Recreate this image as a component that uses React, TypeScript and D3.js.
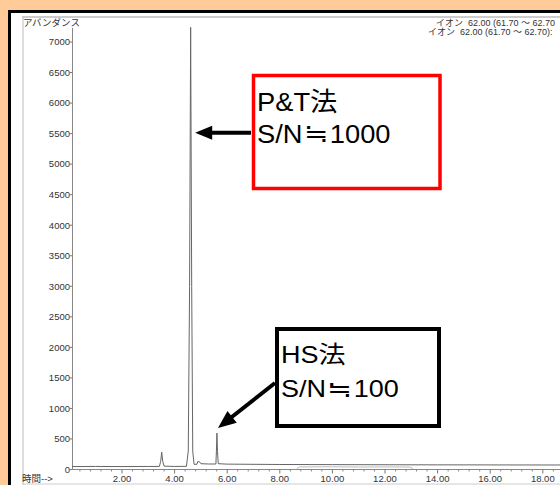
import React from "react";
import * as d3 from "d3";

// chromatogram trace (time in min, abundance)
const traceTime = [0.1, 1.0, 2.0, 3.0, 3.42, 3.47, 3.51, 3.55, 3.6, 4.0, 4.45, 4.52, 4.57, 4.61, 4.65, 4.69, 4.74, 4.85, 4.88, 4.95, 5.0, 5.3, 5.57, 5.59, 5.61, 5.63, 5.66, 6.0, 8.0, 10.0, 12.0, 14.0, 16.0, 18.0, 19.3];
const traceAbund = [48, 50, 48, 50, 50, 130, 285, 130, 55, 50, 52, 300, 3000, 7240, 3000, 300, 85, 85, 130, 125, 95, 90, 90, 300, 595, 300, 95, 88, 82, 80, 78, 76, 75, 74, 74];

// faint second trace
const faintTime = [8.65, 8.75, 10.0, 11.0, 12.0, 12.95, 13.06];
const faintAbund = [15, 42, 45, 40, 42, 40, 15];

const yTicks = [0, 500, 1000, 1500, 2000, 2500, 3000, 3500, 4000, 4500, 5000, 5500, 6000, 6500, 7000];
const xTicks = [2, 4, 6, 8, 10, 12, 14, 16, 18];
const ionLabels = ["イオン\u00a0\u00a062.00\u00a0(61.70\u00a0～\u00a062.70", "イオン\u00a0\u00a062.00\u00a0(61.70\u00a0～\u00a062.70):"];
const ptLines = ["P&T法", "S/N≒1000"];
const hsLines = ["HS法", "S/N≒100"];

const FONT = "'Liberation Sans', Arial, 'Noto Sans CJK JP', sans-serif";
const CJK = "'Noto Sans CJK JP', sans-serif";

function arrowHead(x1: number, y1: number, x2: number, y2: number, len: number, half: number) {
  const a = Math.atan2(y2 - y1, x2 - x1);
  const bx = x2 - len * Math.cos(a);
  const by = y2 - len * Math.sin(a);
  const px = -Math.sin(a) * half;
  const py = Math.cos(a) * half;
  return `M${x2},${y2}L${bx + px},${by + py}L${bx - px},${by - py}Z`;
}

// split so the ≒ sign is drawn wide, as in the reference
function NoteText({ s, w }: { s: string; w: number }) {
  const parts = s.split("≒");
  if (parts.length === 1) return <>{s}</>;
  return (
    <>
      <tspan>{parts[0]}</tspan>
      <tspan fontFamily={CJK} dx={1} textLength={w} lengthAdjust="spacingAndGlyphs">≒</tspan>
      <tspan dx={1}>{parts[1]}</tspan>
    </>
  );
}

export default function App() {
  const x = d3.scaleLinear().domain([0, 18]).range([69.4, 542.8]);
  const y = d3.scaleLinear().domain([0, 7000]).range([469.5, 42]);

  const line = d3
    .line<number>()
    .x((d, i) => x(traceTime[i]))
    .y((d) => y(d));
  const faintLine = d3
    .line<number>()
    .x((d, i) => x(faintTime[i]))
    .y((d) => y(d));

  const minor = d3.range(0.4, 19.3, 0.4).filter((t) => Math.abs(t / 2 - Math.round(t / 2)) > 0.01);

  // annotation anchors from data
  const ptTip = [x(4.63) + 4, y(5515)];
  const hsTip = [x(5.65), y(680)];
  const ptStart = [251, ptTip[1]];
  const hsStart = [275, 383];

  return (
    <div style={{ position: "absolute", left: 0, top: 0 }}>
      <svg width={560} height={485} style={{ display: "block" }} fontFamily={FONT}>
        <rect x={0} y={0} width={560} height={485} fill="#ffcc99" />
        <rect x={9.5} y={11.5} width={560} height={480} fill="#fff" stroke="#000" strokeWidth={3} />
        {/* inner frame */}
        <line x1={22} x2={560} y1={17} y2={17} stroke="#bbb" strokeWidth={1.5} />
        <line x1={23} x2={23} y1={17} y2={485} stroke="#bbb" strokeWidth={1} />
        <line x1={23} x2={560} y1={484} y2={484} stroke="#ccc" strokeWidth={1} />
        <text x={23} y={26} fontSize={9.5} fill="#333">アバンダンス</text>
        {ionLabels.map((s, i) => (
          <text key={i} x={i === 0 ? 436 : 428} y={26 + i * 9} fontSize={9} fill="#333">
            {s}
          </text>
        ))}

        {/* y axis */}
        <line x1={72.5} x2={72.5} y1={28} y2={y(0)} stroke="#888" strokeWidth={1} />
        {yTicks.map((v) => (
          <g key={v} transform={`translate(0,${y(v)})`}>
            <line x1={70} x2={72.5} stroke="#777" />
            <text x={70} dy="0.35em" textAnchor="end" fontSize={9.5} fill="#333">
              {v}
            </text>
          </g>
        ))}

        {/* x axis */}
        <line x1={72} x2={560} y1={y(0)} y2={y(0)} stroke="#888" strokeWidth={1} />
        {minor.map((t) => (
          <line key={t} x1={x(t)} x2={x(t)} y1={y(0)} y2={y(0) + 2} stroke="#888" />
        ))}
        {xTicks.map((t) => (
          <g key={t}>
            <line x1={x(t)} x2={x(t)} y1={y(0)} y2={y(0) + 4} stroke="#777" />
            <text x={x(t)} y={482} textAnchor="middle" fontSize={9.5} fill="#333">
              {t.toFixed(2)}
            </text>
          </g>
        ))}
        <text x={22} y={482} fontSize={9.5} fill="#333">時間--&gt;</text>

        {/* traces */}
        <path d={faintLine(faintAbund) || ""} fill="none" stroke="#bbb" strokeWidth={1} />
        <path d={line(traceAbund) || ""} fill="none" stroke="#666" strokeWidth={1} />

        {/* P&T annotation */}
        <rect x={253.5} y={75.5} width={186.5} height={113} fill="none" stroke="#ff0000" strokeWidth={3.5} />
        {ptLines.map((s, i) => (
          <text key={s} transform={`translate(257,${110.7 + i * 32.3}) scale(1.05,1)`} fontSize={26} fill="#000">
            <NoteText s={s} w={24} />
          </text>
        ))}
        <line x1={ptStart[0]} y1={ptStart[1]} x2={ptTip[0] + 10} y2={ptTip[1]} stroke="#000" strokeWidth={4} />
        <path d={arrowHead(ptStart[0], ptStart[1], ptTip[0], ptTip[1], 17, 7)} fill="#000" />

        {/* HS annotation */}
        <rect x={277} y={329} width={162} height={97} fill="none" stroke="#000" strokeWidth={4} />
        {hsLines.map((s, i) => (
          <text key={s} transform={`translate(281,${363 + i * 33.5}) scale(1.15,1)`} fontSize={23.5} fill="#000">
            <NoteText s={s} w={22} />
          </text>
        ))}
        <line x1={hsStart[0]} y1={hsStart[1]} x2={hsTip[0] + 10} y2={hsTip[1] - 8} stroke="#000" strokeWidth={4} />
        <path d={arrowHead(hsStart[0], hsStart[1], hsTip[0], hsTip[1], 18, 7.5)} fill="#000" />
      </svg>
    </div>
  );
}
